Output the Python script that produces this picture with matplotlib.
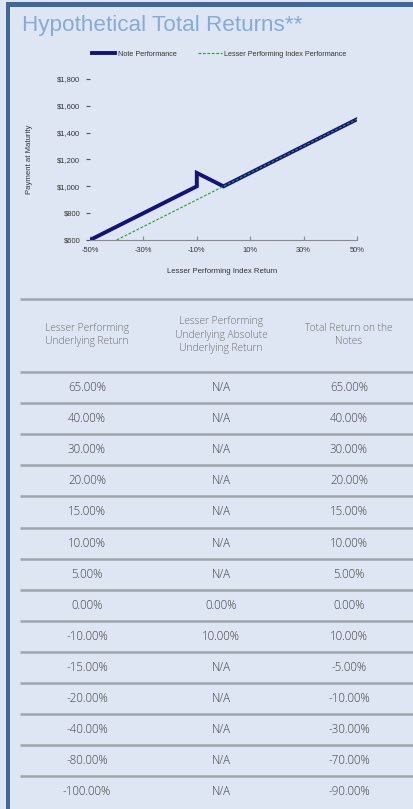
import matplotlib.pyplot as plt
from matplotlib.patches import Rectangle

# Chart data (index return in %, payment at maturity in $)
note_index_return = [-50, -10, -10, 0, 50]
note_payment = [600, 1000, 1100, 1000, 1500]
index_return = [-40, 50]
index_payment = [600, 1500]

x_ticks = [-50, -30, -10, 10, 30, 50]
y_ticks = [600, 800, 1000, 1200, 1400, 1600, 1800]

# Table data (in %)
header = ['Lesser Performing\nUnderlying Return',
          'Lesser Performing\nUnderlying Absolute\nUnderlying Return',
          'Total Return on the\nNotes']
underlying_return = [65, 40, 30, 20, 15, 10, 5, 0, -10, -15, -20, -40, -80, -100]
absolute_return = [None, None, None, None, None, None, None, 0, 10, None, None, None, None, None]
total_return = [65, 40, 30, 20, 15, 10, 5, 0, 10, -5, -10, -30, -70, -90]

bg = '#dde6f2'
border = '#3f6797'
title_color = '#86abd8'
rule_color = '#a0a5ac'
table_font = ['Open Sans', 'DejaVu Sans']
chart_font = ['Liberation Sans', 'DejaVu Sans']

W, H = 414, 809
fig = plt.figure(figsize=(W / 100, H / 100), dpi=100)
fig.patch.set_facecolor(bg)

# overlay axes in pixel units for frame, title and table
ov = fig.add_axes([0, 0, 1, 1])
ov.set_xlim(0, W)
ov.set_ylim(H, 0)
ov.axis('off')
ov.patch.set_alpha(0)

ov.add_patch(Rectangle((6, 2), W - 6, 4.5, color=border, lw=0))
ov.add_patch(Rectangle((6, 2), 4.5, H, color=border, lw=0))

ov.text(22, 25, 'Hypothetical Total Returns**', fontsize=16.2, color=title_color,
        family=chart_font, va='center', ha='left')

# table
col_x = [87, 221, 349]
ov.hlines(299, 20, W, color=rule_color, lw=1.8)
for cx, h in zip(col_x, header):
    ov.text(cx, 335, h, ha='center', va='center', fontsize=7.4, color='#6e6e6e',
            family=table_font, weight='light', linespacing=1.35)

row_top = 372
pitch = 31.1
for i in range(len(underlying_return)):
    y_line = row_top + i * pitch
    ov.hlines(y_line, 20, W, color=rule_color, lw=1.8)
    yc = y_line + pitch / 2
    a = absolute_return[i]
    cells = [f'{underlying_return[i]:.2f}%',
             'N/A' if a is None else f'{a:.2f}%',
             f'{total_return[i]:.2f}%']
    for cx, s in zip(col_x, cells):
        ov.text(cx, yc, s, ha='center', va='center', fontsize=8.3, color='#444444',
                family=table_font, weight='light')

# chart
ax = fig.add_axes([90 / W, 1 - 240 / H, 267 / W, 161 / H])
ax.patch.set_alpha(0)
ax.plot(note_index_return, note_payment, color='#12127c', lw=2.8,
        solid_joinstyle='miter', label='Note Performance')
ax.plot(index_return, index_payment, color='#2f9a3a', lw=0.8, ls=(0, (2.5, 1.5)),
        label='Lesser Performing Index Performance')
ax.set_xlim(-50, 50)
ax.set_ylim(600, 1800)
ax.set_xticks(x_ticks)
ax.set_xticklabels([f'{t}%' for t in x_ticks])
ax.set_yticks(y_ticks)
ax.set_yticklabels([f'${t:,}' for t in y_ticks])
for s in ['top', 'right', 'left']:
    ax.spines[s].set_visible(False)
ax.spines['bottom'].set_color('#8a8a8a')
ax.spines['bottom'].set_linewidth(0.8)
ax.tick_params(axis='x', direction='in', length=3, color='#8a8a8a', pad=5,
               labelsize=5.4, labelcolor='#333333')
ax.tick_params(axis='y', direction='out', length=3, color='#555555', pad=4,
               labelsize=5.4, labelcolor='#333333')
for lbl in ax.get_xticklabels() + ax.get_yticklabels():
    lbl.set_family(chart_font)

ax.set_xlabel('Lesser Performing Index Return', fontsize=5.6, color='#333333',
              family=chart_font)
ax.xaxis.set_label_coords(0.494, -0.175)
ax.set_ylabel('Payment at Maturity', fontsize=5.6, color='#333333', family=chart_font)
ax.yaxis.set_label_coords(-0.213, 0.5)

fig.legend(loc='center', bbox_to_anchor=(219 / W, 1 - 54 / H), ncol=2, frameon=False,
           prop={'family': chart_font, 'size': 5.2}, handlelength=3.3,
           handletextpad=0.3, columnspacing=3.0, labelcolor='#333333')

fig.savefig('out.png', dpi=100, facecolor=bg)
